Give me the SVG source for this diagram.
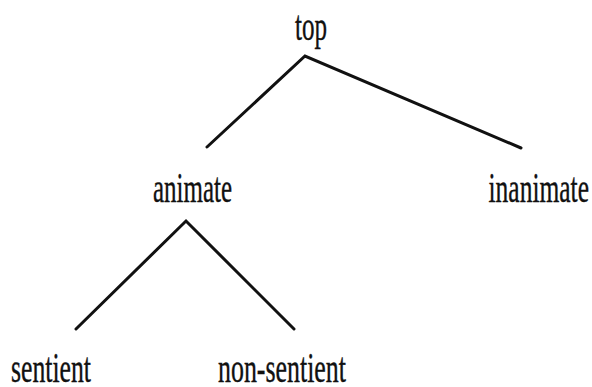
<svg xmlns="http://www.w3.org/2000/svg" width="592" height="387" viewBox="0 0 592 387">
<style>
.lbl{font-family:"Liberation Serif","Times New Roman",serif;font-size:42px;fill:#111;stroke:#111;stroke-width:0.4;}
.edge{stroke:#111;stroke-width:3;stroke-linecap:round;fill:none;}
</style>
<rect width="592" height="387" fill="#fff"/>
<g id="connectors">
<polyline class="edge" points="207,147 305,56 521,148"/>
<polyline class="edge" points="76,329 186,221 294,329"/>
</g>
<g id="node-top"><text class="lbl" x="295" y="40" textLength="32" lengthAdjust="spacingAndGlyphs">top</text></g>
<g id="node-animate"><text class="lbl" x="153" y="201.5" textLength="79" lengthAdjust="spacingAndGlyphs">animate</text></g>
<g id="node-inanimate"><text class="lbl" x="488.5" y="202" textLength="100.5" lengthAdjust="spacingAndGlyphs">inanimate</text></g>
<g id="node-sentient"><text class="lbl" x="11" y="381.5" textLength="80" lengthAdjust="spacingAndGlyphs">sentient</text></g>
<g id="node-non-sentient"><text class="lbl" x="218" y="381.5" textLength="128" lengthAdjust="spacingAndGlyphs">non-sentient</text></g>
</svg>
